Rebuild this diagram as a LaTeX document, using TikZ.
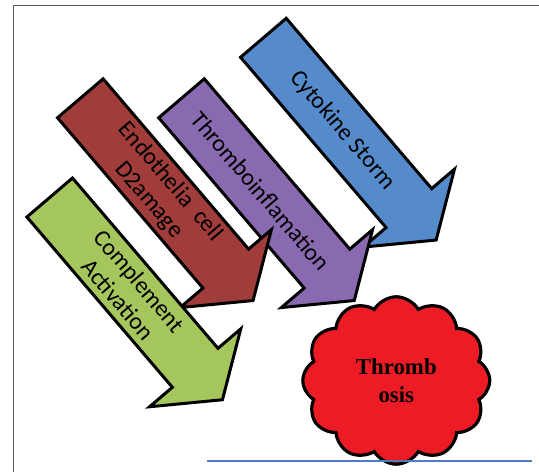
\documentclass[tikz,border=0pt]{standalone}
\usepackage{fontspec}
\usepackage{tikz}
\usetikzlibrary{shapes.symbols}

\newfontfamily\calibrifont{Carlito}
\newfontfamily\timesfont{Liberation Serif}

\definecolor{stormblue}{RGB}{85,138,203}
\definecolor{inflpurple}{RGB}{137,106,176}
\definecolor{endored}{RGB}{160,60,57}
\definecolor{complgreen}{RGB}{165,198,92}
\definecolor{clotred}{RGB}{237,28,36}
\definecolor{baseblue}{RGB}{74,126,190}

\begin{document}
\begin{tikzpicture}[x=0.02cm, y=0.02cm,
    blockarrow/.style={draw=black, line width=1.7pt},
    arrowtext/.style={font=\calibrifont\fontsize{13.6}{16}\selectfont,
      align=center, rotate=-49.5, inner sep=0pt}]
  \useasboundingbox (0,0) rectangle (539,472);

  % frame, only top and left edges show
  \draw[black!65, line width=0.8pt] (13.3,-20) |- (560,466.3);

  % the four causes, back to front
  \foreach \px/\py/\col/\nm/\txt in {
      263.4/434.2/stormblue/storm/{Cytokine Storm},
      181.5/373.7/inflpurple/inflam/{Thromboinflamation},
      80.3/373.7/endored/endo/{Endothelia\ \ cell\\D2amage},
      49.7/274.5/complgreen/compl/{Complement\\Activation}}{
    \begin{scope}[shift={(\px,\py)}, rotate=-49.5]
      \filldraw[blockarrow, fill=\col] (0,30) -- (224,30) -- (224,60) -- (266,0)
        -- (224,-60) -- (224,-30) -- (0,-30) -- cycle;
      \node[arrowtext] (\nm) at (122,0) {\txt};
    \end{scope}
  }

  % the clot
  \node[cloud, cloud puffs=12, cloud puff arc=120, draw, line width=1.8pt,
    fill=clotred, minimum width=3.74cm, minimum height=3.35cm, align=center,
    font=\timesfont\bfseries\fontsize{13}{16}\selectfont] (clot) at (396.3,91.5) {Thromb\\osis};

  \coordinate (baseL) at (207,11);
  \coordinate (baseR) at (532,11);
  \draw[baseblue, line width=1.1pt] (baseL) -- (baseR);
\end{tikzpicture}
\end{document}
